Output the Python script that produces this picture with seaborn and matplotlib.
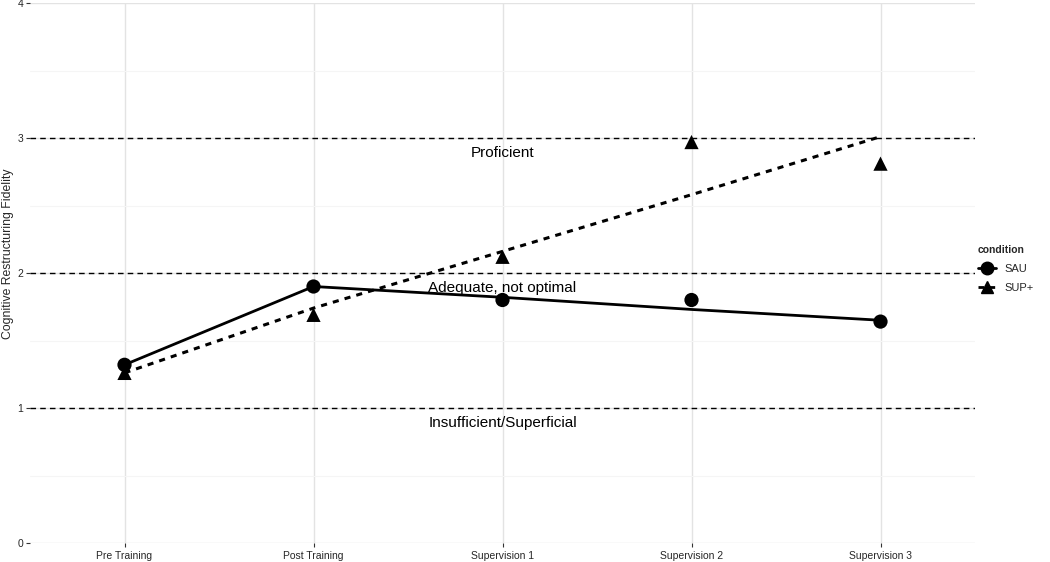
import matplotlib
matplotlib.use("Agg")
import matplotlib.pyplot as plt
from matplotlib.lines import Line2D
import numpy as np
import pandas as pd
import seaborn as sns

# Data
timepoints = ["Pre Training", "Post Training", "Supervision 1", "Supervision 2", "Supervision 3"]
sau_points = [1.32, 1.90, 1.80, 1.80, 1.64]
sup_points = [1.26, 1.69, 2.12, 2.97, 2.81]
# fitted (piecewise) lines
sau_fit = [1.32, 1.90, 1.82, 1.73, 1.65]
sup_fit = [1.26, 1.74, 2.16, 2.58, 3.01]
thresholds = [1, 2, 3]
threshold_labels = ["Insufficient/Superficial", "Adequate, not optimal", "Proficient"]

sns.set_theme(style="whitegrid")
plt.rcParams["font.family"] = ["Liberation Sans", "DejaVu Sans"]

pts = pd.DataFrame({
    "x": list(range(5)) * 2,
    "y": sau_points + sup_points,
    "condition": ["SAU"] * 5 + ["SUP+"] * 5,
})

fig = plt.figure(figsize=(10.5, 5.62), dpi=100)
ax = fig.add_axes([30 / 1050, 19 / 562, 945 / 1050, 540 / 562])

xs = np.arange(5)
sns.lineplot(x=xs, y=sau_fit, ax=ax, color="black", lw=2, zorder=3)
sns.lineplot(x=xs, y=sup_fit, ax=ax, color="black", lw=2.2, zorder=3,
             linestyle=(0, (2.0, 2.0)))
sns.scatterplot(data=pts, x="x", y="y", style="condition", markers={"SAU": "o", "SUP+": "^"},
                color="black", s=105, edgecolor="black", linewidth=0, ax=ax, zorder=4, legend=False)

for t, lab in zip(thresholds, threshold_labels):
    ax.axhline(t, color="black", lw=1, linestyle=(0, (4, 3)), zorder=2)
    ax.text(2, t - 0.11, lab, ha="center", va="center", fontsize=11, color="black", zorder=5)

ax.set_xlim(-0.5, 4.5)
ax.set_ylim(0, 4)
ax.set_xticks(xs)
ax.set_xticklabels(timepoints, fontsize=7.5)
ax.set_yticks([0, 1, 2, 3, 4])
ax.set_yticks([0.5, 1.5, 2.5, 3.5], minor=True)
ax.tick_params(axis="y", which="major", labelsize=7.5, length=3, width=0.8, color="#333333", pad=2, left=True)
ax.tick_params(axis="x", which="major", length=3, width=0.8, color="#333333", pad=3, bottom=True)
ax.tick_params(axis="y", which="minor", length=0)
ax.set_xlabel("")
ax.set_ylabel("Cognitive Restructuring Fidelity", fontsize=8.8, labelpad=2)
ax.yaxis.set_label_coords(-0.017, 0.535)
ax.grid(True, which="major", color="#e3e3e3", lw=1)
ax.grid(True, which="minor", axis="y", color="#f5f5f5", lw=0.8)
ax.set_facecolor("white")
for s in ax.spines.values():
    s.set_visible(False)

handles = [
    Line2D([0], [0], color="black", lw=2, marker="o", markersize=9, label="SAU"),
    Line2D([0], [0], color="black", lw=2, linestyle=(0, (2, 2)), marker="^", markersize=9, label="SUP+"),
]
leg = fig.legend(handles=handles, title="condition", loc="upper left",
                 bbox_to_anchor=(968 / 1050, 1 - 235 / 562), frameon=False,
                 fontsize=8, title_fontsize=7.5, handlelength=1.6, labelspacing=0.8)
leg.get_title().set_fontweight("bold")
leg._legend_box.align = "left"

fig.savefig("out.png", dpi=100)
